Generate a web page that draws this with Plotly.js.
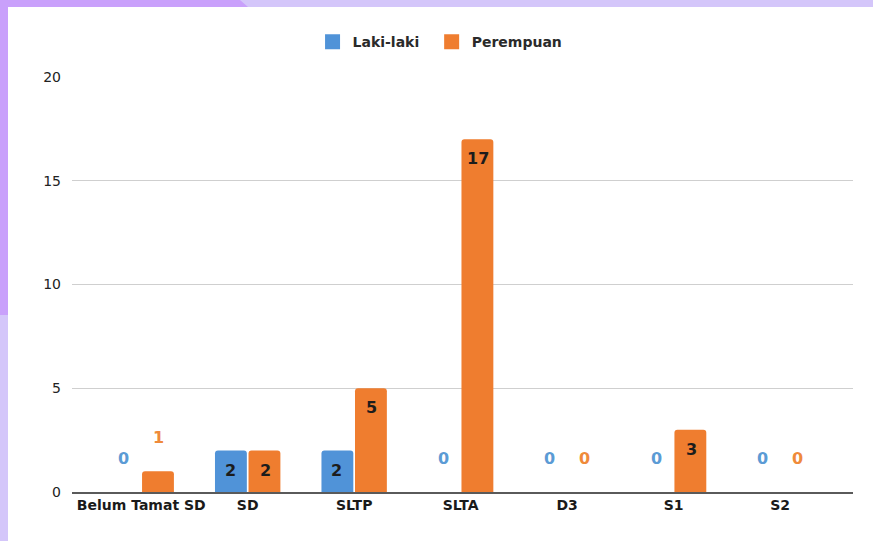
<!DOCTYPE html>
<html>
<head>
<meta charset="utf-8">
<script src="https://cdn.plot.ly/plotly-3.0.1.min.js"></script>
<style>
  html, body { margin:0; padding:0; width:873px; height:541px; overflow:hidden; background:#d4c6fa; }
  #accent { position:absolute; left:0; top:0; width:250px; height:315px; background:#c9a0fb;
            clip-path: polygon(0 0, 240px 0, 248px 7px, 8px 7px, 8px 315px, 0 315px); }
  #chart { position:absolute; left:8px; top:7px; width:865px; height:534px; background:#fff; }
</style>
</head>
<body>
<div id="accent"></div>
<div id="chart"></div>
<script>
const categories = ["Belum Tamat SD", "SD", "SLTP", "SLTA", "D3", "S1", "S2"];
const lakiLaki = [0, 2, 2, 0, 0, 0, 0];
const perempuan = [1, 2, 5, 17, 0, 3, 0];
const seriesNames = ["Laki-laki", "Perempuan"];
const yTicks = [0, 5, 10, 15, 20];

const FONT = "DejaVu Sans, Verdana, sans-serif";
const blue = "#5093d8", orange = "#ef7d2f";
const blueText = "#5b9bd5", orangeText = "#ef8a3a";
const insideMin = 2; // values at or above this get their label inside the bar

function mkBar(name, vals, color) {
  return {
    type: "bar", name: name, x: categories, y: vals, showlegend: false,
    marker: { color: color, cornerradius: 3 },
    hoverinfo: "x+y", cliponaxis: false
  };
}
function mkLegend(name, color, legendId) {
  return {
    type: "scatter", mode: "markers", name: name, x: [null], y: [null],
    marker: { symbol: "square", size: 15, color: color }, showlegend: true, legend: legendId
  };
}

const traces = [
  mkBar(seriesNames[0], lakiLaki, blue), mkBar(seriesNames[1], perempuan, orange),
  mkLegend(seriesNames[0], blue, "legend"), mkLegend(seriesNames[1], orange, "legend2")
];

const offset = 0.165;
const annotations = [];
[[lakiLaki, -offset, blueText], [perempuan, offset, orangeText]].forEach(([vals, off, col]) => {
  vals.forEach((v, i) => {
    const inside = v >= insideMin;
    annotations.push({
      x: i + off, y: v, xref: "x", yref: "y", text: String(v), showarrow: false,
      yanchor: inside ? "top" : "middle", yshift: inside ? -8 : 34,
      font: { family: FONT, size: 16, color: inside ? "#1c1c1c" : col, weight: 700 }
    });
  });
});

const legendStyle = (x) => ({
  orientation: "h", x: x, xanchor: "left", y: 1.084, yanchor: "middle",
  font: { family: FONT, size: 14, color: "#2a2a2a", weight: 600 }, itemwidth: 30,
  bgcolor: "rgba(0,0,0,0)"
});

const layout = {
  width: 865, height: 534,
  margin: { l: 64, r: 20, t: 70, b: 49 },
  paper_bgcolor: "#ffffff", plot_bgcolor: "#ffffff",
  barmode: "group", bargap: 0.37, bargroupgap: 0.05,
  font: { family: FONT, size: 14, color: "#222" },
  showlegend: true,
  legend: legendStyle(0.308),
  legend2: legendStyle(0.4605),
  xaxis: {
    type: "category", range: [-0.65, 6.685],
    showline: true, linecolor: "#5a5a5a", linewidth: 1.5,
    showgrid: false, ticks: "",
    tickfont: { family: FONT, size: 14, color: "#1a1a1a", weight: 600 }
  },
  yaxis: {
    range: [0, 20], tickvals: yTicks, ticktext: yTicks.map(String),
    showgrid: true, gridcolor: "#cfcfcf", gridwidth: 1,
    zeroline: false, showline: false, ticks: "",
    ticklabelstandoff: 10,
    tickfont: { family: FONT, size: 14, color: "#222" }
  },
  annotations: annotations
};

Plotly.newPlot("chart", traces, layout, { displayModeBar: false, staticPlot: true });
</script>
</body>
</html>
